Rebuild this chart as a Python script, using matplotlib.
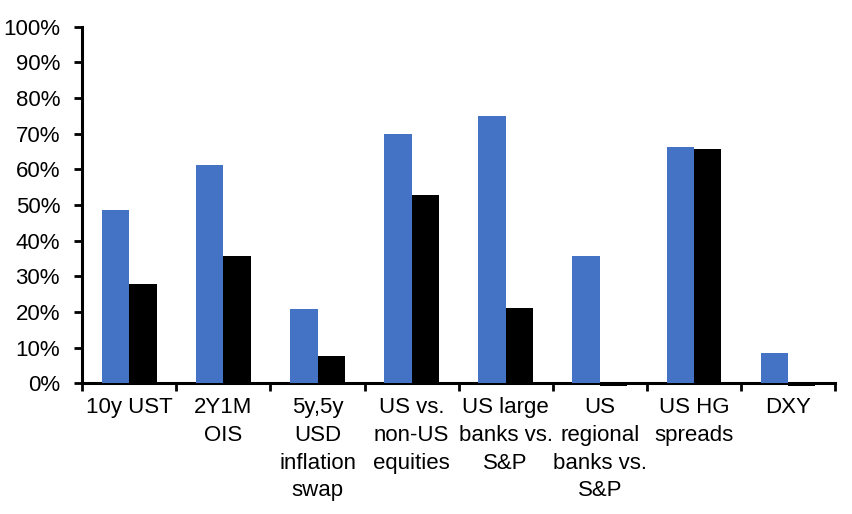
import numpy as np
import matplotlib
matplotlib.use("Agg")
import matplotlib.pyplot as plt
from matplotlib.ticker import PercentFormatter, FixedLocator

categories = ["10y UST", "2Y1M\nOIS", "5y,5y\nUSD\ninflation\nswap",
              "US vs.\nnon-US\nequities", "US large\nbanks vs.\nS&P",
              "US\nregional\nbanks vs.\nS&P", "US HG\nspreads", "DXY"]
blue_vals = [0.485, 0.611, 0.208, 0.700, 0.751, 0.357, 0.662, 0.086]
black_vals = [0.278, 0.357, 0.076, 0.528, 0.210, -0.008, 0.657, -0.008]

plt.rcParams['font.family'] = ['Liberation Sans', 'DejaVu Sans']

fig = plt.figure(figsize=(8.52, 5.14), dpi=100)
ax = fig.add_axes([0.0966, 0.2543, 0.8834, 0.6937])

x = np.arange(len(categories))
w = 0.29
ax.bar(x - w / 2, blue_vals, w, color="#4472C4", clip_on=False, zorder=2)
ax.bar(x + w / 2, black_vals, w, color="black", clip_on=False, zorder=2)

ax.set_xlim(-0.5, len(categories) - 0.5)
ax.set_ylim(0, 1)
ax.set_yticks(np.arange(0, 1.01, 0.1))
ax.yaxis.set_major_formatter(PercentFormatter(1.0, decimals=0))

# category labels centred, tick marks on the boundaries
ax.set_xticks(x)
ax.set_xticklabels(categories, fontsize=16, linespacing=1.42, va="top")
ax.tick_params(axis="x", which="major", length=0, pad=10)
ax.xaxis.set_minor_locator(FixedLocator(np.arange(-0.5, len(categories), 1.0)))
ax.tick_params(axis="x", which="minor", length=6, width=2, direction="out")
ax.tick_params(axis="y", labelsize=16, length=6, width=2, pad=10)

for side in ["top", "right"]:
    ax.spines[side].set_visible(False)
for side in ["left", "bottom"]:
    ax.spines[side].set_linewidth(2.2)
ax.spines["bottom"].set_zorder(1.5)

fig.savefig("out.png", dpi=100)
